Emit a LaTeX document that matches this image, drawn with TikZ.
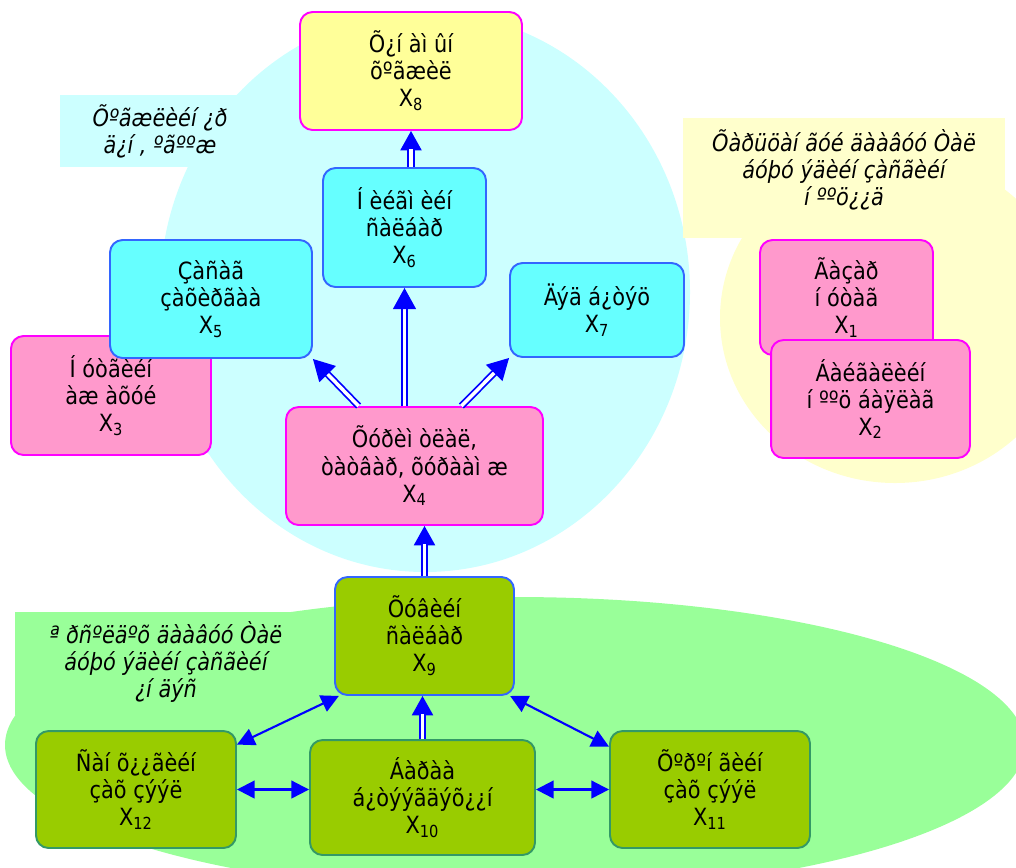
\documentclass[tikz,border=0pt]{standalone}
\usepackage{fontspec}
\setmainfont{DejaVu Sans}[FakeStretch=0.88]
\usetikzlibrary{arrows.meta}
\definecolor{bgcyan}{HTML}{CCFFFF}
\definecolor{bgyellow}{HTML}{FFFFCC}
\definecolor{bggreen}{HTML}{99FF99}
\definecolor{pinkfill}{HTML}{FF99CC}
\definecolor{pinkline}{HTML}{FF00FF}
\definecolor{cyanfill}{HTML}{66FFFF}
\definecolor{blueline}{HTML}{3366FF}
\definecolor{greenfill}{HTML}{99CC00}
\definecolor{tealline}{HTML}{339966}
\definecolor{yellowfill}{HTML}{FFFF99}
\newcommand{\boxfont}{\fontsize{13.5}{15.4}\selectfont}

\begin{document}
\begin{tikzpicture}[x=0.02cm,y=-0.02cm,
  box/.style={rectangle,rounded corners=0.25cm,line width=1.1pt,align=center,font=\boxfont,inner sep=2pt},
  pinkbox/.style={box,fill=pinkfill,draw=pinkline},
  cyanbox/.style={box,fill=cyanfill,draw=blueline},
  yellowbox/.style={box,fill=yellowfill,draw=pinkline},
  greenbox/.style={box,fill=greenfill,draw=tealline},
  notetext/.style={align=center,font=\boxfont\itshape,inner sep=0pt},
  dblline/.style={draw=blue,line width=1pt,double=white,double distance=2pt},
  dblopen/.style={dblline,-{Triangle[length=12pt,width=13pt]}},
  tipline/.style={draw=blue,line width=1pt,-{Triangle[length=11pt,width=12pt]}},
  bidir/.style={draw=blue,line width=1.2pt,{Triangle[length=10pt,width=10pt]}-{Triangle[length=10pt,width=10pt]}}]
\useasboundingbox (0,0) rectangle (1016,867);
% background areas
\fill[bgcyan] (425,292) ellipse [x radius=265, y radius=280];
\fill[bgcyan] (60,95) rectangle (270,167);
\fill[bgyellow] (895,318) ellipse [x radius=175, y radius=165];
\fill[bgyellow] (683,118) rectangle (1005,238);
\fill[bggreen] (515,745) ellipse [x radius=510, y radius=148];
\fill[bggreen] (15,612) rectangle (320,715);
%
\node (n1) [notetext] at (160,131) {Õºãæëèéí ¿ð\\ä¿í , ºãººæ};
\node (n2) [notetext] at (844,170) {Õàðüöàí ãóé äààâóó Òàë\\áóþó ýäèéí  çàñãèéí\\í ººö¿¿ä};
\node (n3) [notetext] at (166,662) {ª ðñºëäºõ äààâóó Òàë\\áóþó ýäèéí  çàñãèéí\\¿í äýñ};
%
\node (x8) [yellowbox,minimum width=4.44cm,minimum height=2.36cm] at (411,71) {Õ¿í àì ûí\\õºãæèë\\X\textsubscript{8}};
\node (x6) [cyanbox,minimum width=3.26cm,minimum height=2.38cm] at (404.5,227.5) {Í èéãì èéí\\ñàëáàð\\X\textsubscript{6}};
\node (x3) [pinkbox,minimum width=4.0cm,minimum height=2.38cm] at (111,395.5) {Í óòãèéí\\àæ àõóé\\X\textsubscript{3}};
\node (x5) [cyanbox,minimum width=4.04cm,minimum height=2.36cm] at (211,299) {Çàñàã\\çàõèðãàà\\X\textsubscript{5}};
\node (x7) [cyanbox,minimum width=3.48cm,minimum height=1.88cm] at (597,310) {Äýä á¿òýö\\X\textsubscript{7}};
\node (x4) [pinkbox,minimum width=5.14cm,minimum height=2.36cm] at (414.5,466) {Õóðèì òëàë,\\òàòâàð, õóðààì æ\\X\textsubscript{4}};
\node (x1) [pinkbox,minimum width=3.46cm,minimum height=2.3cm] at (846.5,297.5) {Ãàçàð\\í óòàã\\X\textsubscript{1}};
\node (x2) [pinkbox,minimum width=3.98cm,minimum height=2.36cm] at (870.5,399) {Áàéãàëèéí\\í ººö áàÿëàã\\X\textsubscript{2}};
\node (x9) [greenbox,draw=blueline,minimum width=3.58cm,minimum height=2.36cm] at (424.5,636) {Õóâèéí\\ñàëáàð\\X\textsubscript{9}};
\node (x12) [greenbox,minimum width=4.0cm,minimum height=2.34cm] at (136,789.5) {Ñàí õ¿¿ãèéí\\çàõ çýýë\\X\textsubscript{12}};
\node (x10) [greenbox,minimum width=4.5cm,minimum height=2.3cm] at (422.5,797.5) {Áàðàà\\á¿òýýãäýõ¿¿í\\X\textsubscript{10}};
\node (x11) [greenbox,minimum width=4.0cm,minimum height=2.34cm] at (710,789.5) {Õºðºí ãèéí\\çàõ çýýë\\X\textsubscript{11}};
%
\draw[dblopen] (x6.south |- x4.north) -- (x6.south);
\draw[dblopen] (x4.133) -- (x5.south east);
\draw[dblopen] (x4.52) -- (x7.south west);
%
\draw[tipline] (x6.north -| x8.south) -- (x8.south);
\draw[dblline,shorten >=10pt] (x6.north -| x8.south) -- (x8.south);
\draw[tipline] (x9.north) -- (x9.north |- x4.south);
\draw[dblline,shorten >=10pt] (x9.north) -- (x9.north |- x4.south);
\draw[tipline] (x10.north) -- (x10.north |- x9.south);
\draw[dblline,shorten >=10pt] (x10.north) -- (x10.north |- x9.south);
%
\draw[bidir] (x12.east) -- (x12.east -| x10.west);
\draw[bidir] (x10.east |- x11.west) -- (x11.west);
\draw[bidir] (x9.215) -- (x12.24);
\draw[bidir] (x9.325) -- (x11.157);
\end{tikzpicture}
\end{document}
